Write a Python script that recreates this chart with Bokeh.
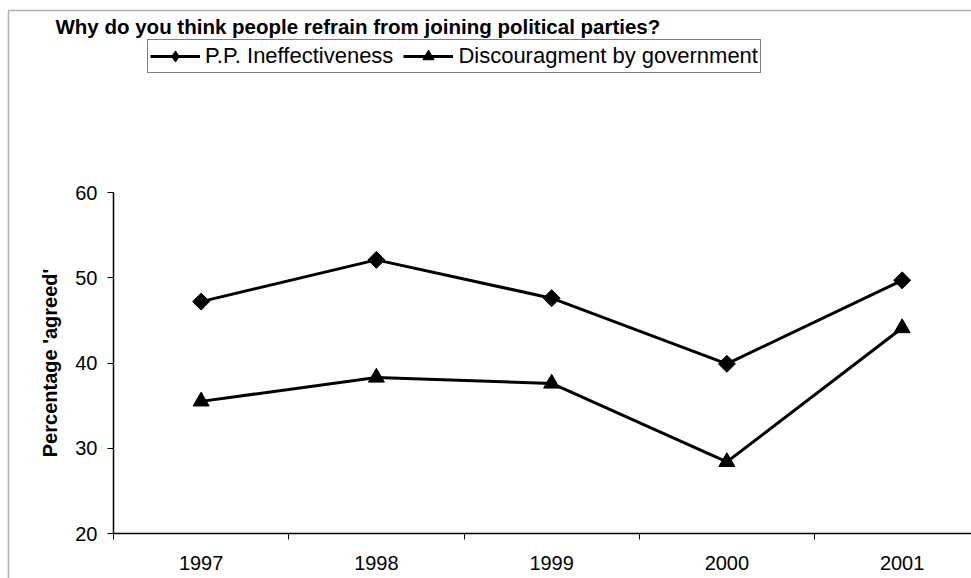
from bokeh.plotting import figure
from bokeh.models import (Range1d, FixedTicker, Legend, LegendItem, Label,
                          BoxAnnotation, ColumnDataSource)
from bokeh.embed import file_html
from bokeh.resources import INLINE
import numpy as np

# Survey results: share of respondents who agreed with each reason
years = ["1997", "1998", "1999", "2000", "2001"]
pp_ineffectiveness = [47.2, 52.1, 47.6, 39.9, 49.7]
discouragement_by_government = [35.5, 38.3, 37.6, 28.4, 44.1]
y_ticks = [20, 30, 40, 50, 60]

FONT = "Liberation Sans"
W, H = 971, 578

# Page geometry (pixels): the plot area sits inside a larger chart canvas.
AX_LEFT, AX_BOTTOM, AX_TOP = 113, 533, 192
SLOT = 175.25                      # width of one year slot
Y_MIN, Y_MAX = 20, 60
PX_PER_UNIT = (AX_BOTTOM - AX_TOP) / (Y_MAX - Y_MIN)


def px_x(px):
    return (px - AX_LEFT) / SLOT


def px_y(py):
    return Y_MIN + (AX_BOTTOM - py) / PX_PER_UNIT


x_end = px_x(W)

# categories sit in the middle of unit-wide slots; tick marks fall on slot edges
x_pos = [i + 0.5 for i in range(len(years))]
src = ColumnDataSource(dict(x=x_pos, pp=pp_ineffectiveness,
                            gov=discouragement_by_government))

p = figure(width=W, height=H, output_backend="svg", toolbar_location=None,
           x_range=Range1d(px_x(0), x_end), y_range=Range1d(px_y(H), px_y(0)),
           min_border=0)
p.outline_line_color = None
p.grid.visible = False
p.background_fill_color = "white"
p.border_fill_color = "white"

# x axis: year labels centred in each slot, small ticks between slots
xa = p.xaxis[0]
xa.fixed_location = Y_MIN
xa.bounds = (0, x_end)
xa.ticker = FixedTicker(ticks=x_pos, minor_ticks=list(range(len(years) + 1)))
xa.major_label_overrides = {x: y for x, y in zip(x_pos, years)}
xa.major_tick_out = 0
xa.major_tick_in = 0
xa.minor_tick_out = 6
xa.minor_tick_in = 0
xa.minor_tick_line_color = "black"
xa.axis_line_color = "black"
xa.axis_line_width = 1.5
xa.major_label_text_font = FONT
xa.major_label_text_font_size = "20px"
xa.major_label_text_color = "black"
xa.major_label_standoff = 16

ya = p.yaxis[0]
ya.fixed_location = 0
ya.bounds = (Y_MIN, Y_MAX)
ya.ticker = FixedTicker(ticks=y_ticks, minor_ticks=[])
ya.major_tick_out = 6
ya.major_tick_in = 0
ya.major_tick_line_color = "black"
ya.axis_line_color = "black"
ya.axis_line_width = 1.5
ya.major_label_text_font = FONT
ya.major_label_text_font_size = "20px"
ya.major_label_text_color = "black"
ya.major_label_standoff = 10
ya.axis_label = "Percentage 'agreed'"
ya.axis_label_text_font = FONT
ya.axis_label_text_font_size = "20px"
ya.axis_label_text_font_style = "bold"
ya.axis_label_text_color = "black"
ya.axis_label_standoff = 11

# series: lines with diamond / triangle markers
l1 = p.line("x", "pp", source=src, line_color="black", line_width=3)
m1 = p.scatter("x", "pp", source=src, marker="square", angle=np.pi / 4,
               size=12, fill_color="black", line_color="black")
l2 = p.line("x", "gov", source=src, line_color="black", line_width=3)
m2 = p.scatter("x", "gov", source=src, marker="triangle", size=16,
               fill_color="black", line_color="black")
# legend swatch for the diamond series (legend markers are drawn unrotated)
m1_key = p.scatter("x", "pp", source=src, marker="diamond", size=0,
                   fill_color="black", line_color="black")

legend = Legend(items=[
    LegendItem(label="P.P. Ineffectiveness", renderers=[l1, m1_key]),
    LegendItem(label="Discouragment by government", renderers=[l2, m2]),
], orientation="horizontal", location=(147, H - 73))
legend.label_text_font = FONT
legend.label_text_font_size = "22px"
legend.label_text_color = "black"
legend.glyph_width = 50
legend.glyph_height = 28
legend.label_standoff = 5
legend.spacing = 10
legend.padding = 2
legend.margin = 0
legend.border_line_color = "black"
legend.border_line_width = 1
legend.background_fill_color = "white"
legend.background_fill_alpha = 1
p.add_layout(legend, "center")

title = Label(x=px_x(55), y=px_y(25.5),
              text="Why do you think people refrain from joining political parties?",
              text_font=FONT, text_font_size="20.5px", text_font_style="bold",
              text_color="black", text_baseline="alphabetic")
p.add_layout(title)

# chart area frame, open towards the right and bottom edges of the page
frame_box = BoxAnnotation(left=px_x(8), top=px_y(10),
                          right=px_x(W + 50), bottom=px_y(H + 50),
                          fill_alpha=0, line_color="black", line_width=1.5)
p.add_layout(frame_box)

open("out.html", "w").write(file_html(p, INLINE))
